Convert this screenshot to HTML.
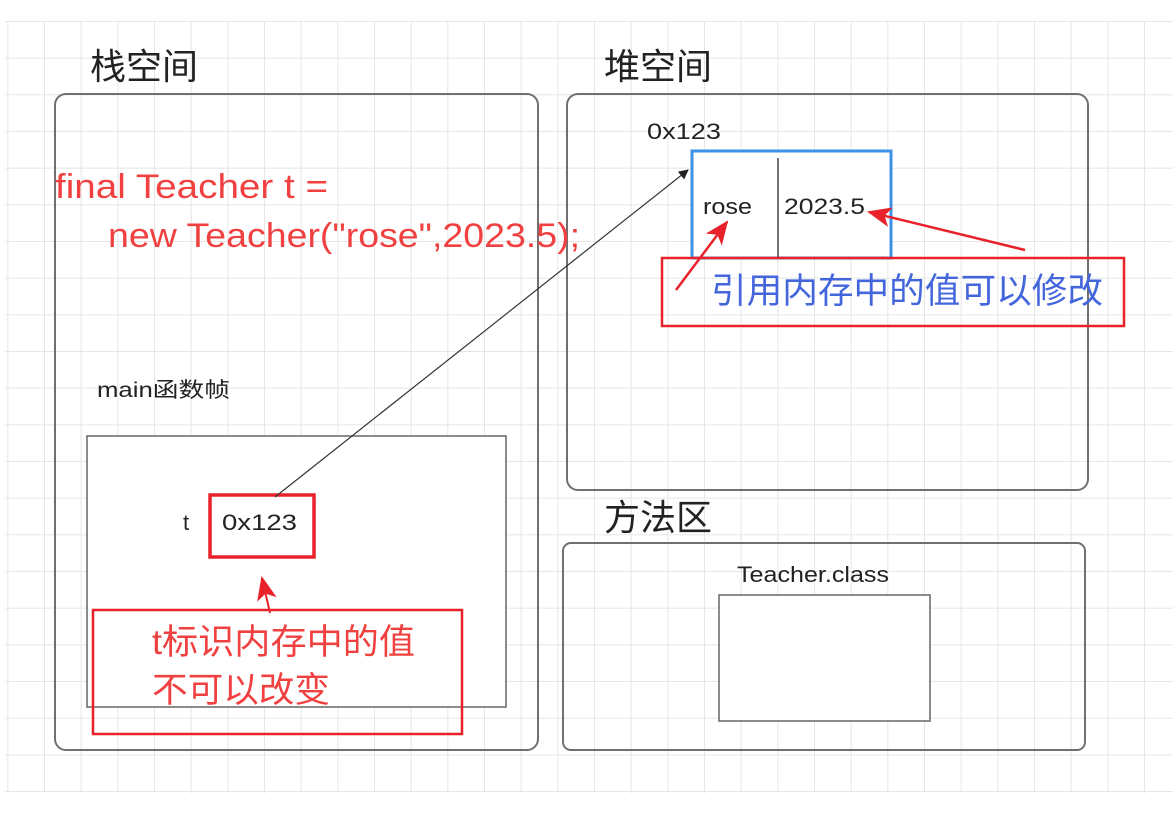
<!DOCTYPE html>
<html><head><meta charset="utf-8"><style>
html,body{margin:0;padding:0;background:#fff;}
svg{display:block;}
text{font-family:"Liberation Sans","Noto Sans CJK SC",sans-serif;}
</style></head><body>
<svg width="1173" height="829" viewBox="0 0 1173 829" xmlns="http://www.w3.org/2000/svg">
<defs>
<pattern id="g" x="7.33" y="21" width="36.667" height="36.667" patternUnits="userSpaceOnUse">
<path d="M0 0V36.667M0 0H36.667" stroke="#e6e6e6" stroke-width="2" fill="none"/>
</pattern>
<marker id="ab" markerWidth="10" markerHeight="10" refX="9" refY="5" orient="auto" markerUnits="userSpaceOnUse"><path d="M0 0L10 5L0 10Z" fill="#222"/></marker>
<marker id="ar" markerWidth="24" markerHeight="20" refX="22" refY="10" orient="auto" markerUnits="userSpaceOnUse"><path d="M0 0L24 10L0 20L6 10Z" fill="#e8212a"/></marker>
</defs>
<rect x="5" y="21" width="1168" height="772" fill="url(#g)"/>
<rect x="55" y="94" width="483" height="656" rx="11" fill="none" stroke="#707070" stroke-width="2"/>
<rect x="567" y="94" width="521" height="396" rx="11" fill="none" stroke="#707070" stroke-width="2"/>
<rect x="563" y="543" width="522" height="207" rx="8" fill="none" stroke="#707070" stroke-width="2"/>
<rect x="87" y="436" width="419" height="271" fill="#fff" stroke="#666" stroke-width="1.5"/>
<rect x="719" y="595" width="211" height="126" fill="#fff" stroke="#666" stroke-width="1.5"/>
<rect x="692" y="151" width="199" height="107" fill="#fff" stroke="#3d92e3" stroke-width="3"/>
<line x1="778" y1="158" x2="778" y2="258" stroke="#444" stroke-width="1.5"/>
<rect x="210" y="495" width="104" height="62" fill="#fff" stroke="#e8212a" stroke-width="3.5"/>
<rect x="93" y="610" width="369" height="124" fill="none" stroke="#e8212a" stroke-width="2.5"/>
<rect x="662" y="258" width="462" height="68" fill="none" stroke="#e8212a" stroke-width="2.5"/>
<line x1="275" y1="497" x2="688" y2="170" stroke="#333" stroke-width="1.2" marker-end="url(#ab)"/>
<line x1="676" y1="290" x2="727" y2="222" stroke="#e8212a" stroke-width="2.5" marker-end="url(#ar)"/>
<line x1="1025" y1="250" x2="869" y2="212" stroke="#e8212a" stroke-width="2.5" marker-end="url(#ar)"/>
<line x1="270" y1="613" x2="262" y2="578" stroke="#e8212a" stroke-width="2" marker-end="url(#ar)"/>
<text x="90" y="79" font-size="36" fill="#222" textLength="108" lengthAdjust="spacingAndGlyphs">栈空间</text>
<text x="604" y="79" font-size="36" fill="#222" textLength="108" lengthAdjust="spacingAndGlyphs">堆空间</text>
<text x="604" y="530" font-size="36" fill="#222" textLength="108" lengthAdjust="spacingAndGlyphs">方法区</text>
<text x="55" y="198" font-size="34" fill="#f04040" textLength="273" lengthAdjust="spacingAndGlyphs">final Teacher t =</text>
<text x="108" y="247" font-size="34" fill="#f04040" textLength="472" lengthAdjust="spacingAndGlyphs">new Teacher("rose",2023.5);</text>
<text x="97" y="397" font-size="21" fill="#222" textLength="133" lengthAdjust="spacingAndGlyphs">main函数帧</text>
<text x="183" y="530" font-size="22" fill="#222">t</text>
<text x="222" y="530" font-size="22" fill="#222" textLength="75" lengthAdjust="spacingAndGlyphs">0x123</text>
<text x="647" y="139" font-size="22" fill="#222" textLength="74" lengthAdjust="spacingAndGlyphs">0x123</text>
<text x="703" y="214" font-size="22" fill="#222" textLength="49" lengthAdjust="spacingAndGlyphs">rose</text>
<text x="784" y="214" font-size="22" fill="#222" textLength="81" lengthAdjust="spacingAndGlyphs">2023.5</text>
<text x="711" y="303" font-size="35" fill="#4466dd" textLength="392" lengthAdjust="spacingAndGlyphs">引用内存中的值可以修改</text>
<text x="152" y="654" font-size="35" fill="#f04040" textLength="263" lengthAdjust="spacingAndGlyphs">t标识内存中的值</text>
<text x="152" y="702" font-size="35" fill="#f04040" textLength="178" lengthAdjust="spacingAndGlyphs">不可以改变</text>
<text x="737" y="582" font-size="22" fill="#222" textLength="152" lengthAdjust="spacingAndGlyphs">Teacher.class</text>
</svg>
</body></html>
